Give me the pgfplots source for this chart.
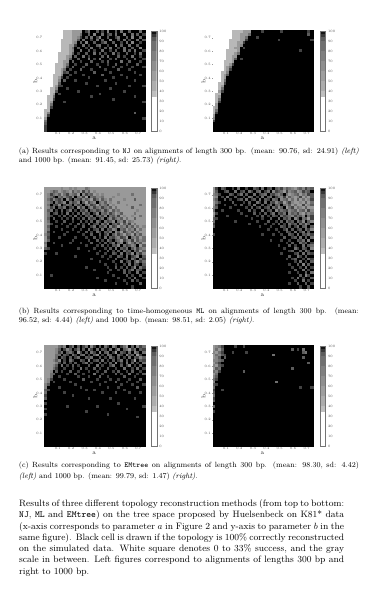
\documentclass[border=0pt]{standalone}
\usepackage{fontspec}
\usepackage{pgfplots}
\usepackage{pgfplotstable}
\pgfplotsset{compat=1.18}
% cell values: failure rate in tens of percent, 0 = 100% success (black), 7 = under 33% (white)
\pgfplotsset{colormap={tw}{gray(0cm)=(0); gray(1cm)=(.26); gray(2cm)=(.36); gray(3cm)=(.44); gray(4cm)=(.52); gray(5cm)=(.6); gray(6cm)=(.72); gray(7cm)=(1)}}
\pgfplotstableread[header=false]{
7 7 7 7 7 7 7 6 6 6  5 5 5 5 0 1 3 0 0 2  0 1 0 4 0 0 2 0 3 0  0 2 0 0 0 3 0
7 7 7 7 7 7 7 6 6 6  5 5 5 3 0 0 2 0 4 0  0 3 0 1 2 0 3 0 0 4  0 0 3 0 2 0 1
7 7 7 7 7 7 7 6 6 6  5 5 4 1 0 2 0 3 0 1  4 0 0 2 0 0 1 3 0 0  2 0 4 0 0 3 0
7 7 7 7 7 7 6 6 6 6  5 5 2 0 3 0 0 1 0 3  0 2 0 0 4 0 0 2 0 3  0 1 0 0 3 0 2
7 7 7 7 7 7 6 6 6 6  5 4 0 2 0 4 0 0 2 0  0 1 3 0 0 2 0 0 1 0  3 0 4 0 0 1 0
7 7 7 7 7 7 6 6 6 5  5 1 0 0 3 0 1 0 0 2  3 0 0 1 0 0 4 0 2 0  0 3 0 0 2 0 0
7 7 7 7 7 7 6 6 6 5  3 0 2 0 0 1 0 3 0 0  1 0 2 0 3 0 0 1 0 3  0 0 2 0 0 4 0
7 7 7 7 7 7 6 6 6 5  4 0 0 3 0 0 2 0 1 0  0 3 0 0 1 0 2 0 0 3  0 2 0 3 0 0 1
7 7 7 7 7 6 6 6 6 5  2 0 1 0 0 2 0 0 3 0  2 0 1 0 0 3 0 1 0 0  2 0 0 1 0 3 0
7 7 7 7 7 6 6 6 5 4  0 2 0 0 3 0 1 0 0 0  0 2 0 3 0 0 0 2 0 1  0 0 3 0 0 1 0
7 7 7 7 7 6 6 6 5 2  0 0 2 0 0 0 3 0 1 0  3 0 0 0 1 0 2 0 0 0  1 0 0 2 0 0 1
7 7 7 7 7 6 6 5 5 0  2 0 0 1 0 0 0 2 0 0  0 1 0 2 0 0 0 0 3 0  0 2 0 0 0 1 0
7 7 7 7 6 6 6 5 3 0  0 1 0 0 0 2 0 0 0 1  0 0 0 1 0 0 2 0 0 0  1 0 0 0 2 0 0
7 7 7 7 6 6 6 5 1 0  2 0 0 0 1 0 0 0 0 0  2 0 0 0 0 1 0 0 1 0  0 0 1 0 0 0 1
7 7 7 7 6 6 5 3 0 1  0 0 0 2 0 0 0 1 0 0  0 0 1 0 0 0 0 2 0 0  0 1 0 0 0 0 0
7 7 7 7 6 6 5 1 2 0  0 1 0 0 0 0 0 0 2 0  0 0 0 0 1 0 0 0 0 0  0 0 0 1 0 0 0
7 7 7 6 6 6 4 0 0 1  0 0 0 0 1 0 0 0 0 0  0 2 0 0 0 0 0 0 1 0  0 0 0 0 0 1 0
7 7 7 6 6 5 1 0 1 0  0 0 0 0 0 0 1 0 0 0  0 0 0 0 0 1 0 0 0 0  1 0 0 0 0 0 0
7 7 7 6 6 4 0 2 0 0  0 1 0 0 0 0 0 0 0 0  0 0 1 0 0 0 0 0 0 0  0 0 0 1 0 0 0
7 7 7 6 6 2 0 0 0 0  0 0 0 0 0 1 0 0 0 0  0 0 0 0 0 0 1 0 0 0  0 0 0 0 0 0 0
7 7 7 6 5 1 1 0 0 0  0 0 0 0 0 0 0 0 0 1  0 0 0 0 0 0 0 0 0 0  0 1 0 0 0 0 1
7 7 6 6 4 0 0 0 1 0  0 0 0 0 0 0 0 0 0 0  0 0 0 0 1 0 0 0 0 0  0 0 0 0 0 0 0
7 7 6 6 2 0 0 0 0 0  0 0 1 0 0 0 0 0 0 0  0 0 0 0 0 0 0 0 0 1  0 0 0 0 0 0 0
7 7 6 5 0 1 0 0 0 0  0 0 0 0 0 0 0 0 0 0  1 0 0 0 0 0 0 0 0 0  0 0 0 0 0 0 0
7 6 6 3 0 0 0 0 0 0  0 0 0 0 0 0 0 1 0 0  0 0 0 0 0 0 0 0 0 0  0 0 0 1 0 0 0
7 6 6 1 0 0 0 0 0 0  0 0 0 0 0 0 0 0 0 0  0 0 0 0 0 1 0 0 0 0  0 0 0 0 0 0 0
7 6 5 0 0 0 0 1 0 0  0 0 0 0 0 0 0 0 0 0  0 0 0 0 0 0 0 0 0 0  0 0 0 0 0 0 1
7 6 3 0 0 0 0 0 0 0  0 0 0 0 0 0 0 0 0 0  0 0 0 0 0 0 0 0 0 0  0 0 0 0 0 0 0
7 6 1 0 0 0 0 0 0 0  0 0 0 0 0 0 0 0 0 0  0 0 0 0 0 0 0 0 0 0  0 0 0 0 0 0 0
6 6 0 0 0 0 0 0 0 0  0 0 0 0 0 0 0 0 0 0  0 0 0 0 0 0 0 0 0 0  0 0 0 0 0 0 0
6 4 0 0 0 0 0 0 0 0  0 0 0 0 0 0 0 0 0 0  0 0 0 0 0 0 0 0 0 0  0 0 0 2 0 0 0
6 1 0 0 0 0 0 0 0 0  0 0 0 0 0 0 0 0 0 0  0 0 0 0 0 0 0 0 0 0  0 0 0 0 0 0 0
5 0 0 0 0 0 0 0 0 0  0 0 0 0 0 0 0 0 0 0  0 0 0 0 0 0 0 0 0 0  0 0 0 0 0 0 1
3 0 0 0 0 0 0 0 0 0  0 0 0 0 0 0 0 0 0 0  0 0 0 0 0 0 0 0 0 0  0 0 0 0 0 0 0
2 0 0 0 0 0 0 0 0 0  0 0 0 0 0 0 0 0 0 0  0 0 0 0 0 0 0 0 0 0  0 0 0 0 0 0 0
1 0 0 0 0 0 0 0 0 0  0 0 0 0 0 0 0 0 0 0  0 0 0 0 0 0 0 0 0 0  0 0 0 0 0 0 0
1 0 0 0 0 0 0 0 0 0  0 0 0 0 0 0 0 0 0 0  0 0 0 0 0 0 0 0 0 0  0 0 0 0 0 0 0
}\tAl
\pgfplotstableread[header=false]{
7 7 7 7 7 7 7 6 6 6  6 5 5 5 0 0 0 0 1 0  0 0 0 0 0 1 0 0 0 0  0 0 0 0 0 1 0
7 7 7 7 7 7 7 6 6 6  5 5 5 3 0 0 0 0 0 0  0 0 0 0 0 0 0 0 0 0  0 0 0 0 0 2 0
7 7 7 7 7 7 7 6 6 6  5 5 3 0 0 0 1 0 0 0  0 0 0 0 0 0 0 0 0 0  0 0 0 0 0 0 0
7 7 7 7 7 7 6 6 6 6  5 5 1 0 0 0 0 0 0 0  0 0 0 0 1 0 0 0 0 0  0 0 0 0 0 0 1
7 7 7 7 7 7 6 6 6 5  5 1 0 0 0 0 0 0 0 0  0 0 0 0 0 0 0 0 0 0  0 0 0 0 0 0 0
7 7 7 7 7 7 6 6 6 5  4 0 0 0 0 0 0 0 0 0  0 0 0 0 0 0 0 0 0 0  0 0 0 0 0 0 0
7 7 7 7 7 7 6 6 5 5  0 1 0 0 0 0 0 0 0 0  0 0 0 0 0 0 0 0 0 0  0 0 0 0 0 0 0
7 7 7 7 7 6 6 6 6 5  0 0 0 0 0 0 0 0 0 0  0 0 0 0 0 0 0 0 0 0  0 0 1 0 0 0 0
7 7 7 7 7 6 6 6 5 3  0 0 0 0 0 0 0 0 0 0  0 0 0 0 0 0 0 0 0 0  0 0 0 0 0 0 0
7 7 7 7 7 6 6 5 5 0  0 0 0 0 0 0 0 0 0 0  0 0 0 0 0 0 0 0 0 0  0 0 0 0 0 0 0
7 7 7 7 7 6 6 5 2 0  1 0 0 0 0 0 0 0 0 0  0 0 0 0 0 0 0 0 0 0  0 0 0 0 0 0 0
7 7 7 7 6 6 6 5 0 0  0 0 0 0 0 0 0 0 0 0  0 0 0 0 0 0 0 0 0 0  0 0 0 0 0 0 0
7 7 7 7 6 6 5 1 0 0  0 0 0 0 0 0 0 0 0 0  0 0 0 0 0 0 0 0 0 0  0 0 0 0 0 0 0
7 7 7 7 6 5 3 0 0 0  0 0 0 0 0 0 0 0 0 0  0 0 0 0 0 0 0 0 0 0  0 0 0 0 0 0 0
7 7 7 7 6 5 1 0 0 0  0 0 0 0 0 0 0 0 0 0  0 0 0 0 0 0 0 0 0 0  0 0 0 0 0 0 0
7 7 7 6 6 4 0 0 0 0  0 0 0 0 0 0 0 0 0 0  0 0 0 0 0 0 0 0 0 0  0 0 0 0 0 0 0
7 7 7 6 5 2 0 0 0 0  0 0 0 0 0 0 0 0 0 0  0 0 0 0 0 0 0 0 0 0  0 0 0 0 0 0 0
7 7 7 6 5 0 0 0 0 0  0 0 0 0 0 0 0 0 0 0  0 0 0 0 0 0 0 0 0 0  0 0 0 0 0 0 0
7 7 7 6 3 0 0 0 0 0  0 0 0 0 0 0 0 0 0 0  0 0 0 0 0 0 0 0 0 0  0 0 0 0 0 0 0
7 7 6 6 1 0 0 0 0 0  0 0 0 0 0 0 0 0 0 0  0 0 0 0 0 0 0 0 0 0  0 0 0 0 0 0 0
7 7 6 5 0 0 0 0 0 0  0 0 0 0 0 0 0 0 0 0  0 0 0 0 0 0 0 0 0 0  0 0 0 0 0 0 0
7 7 6 3 0 0 0 0 0 0  0 0 0 0 0 0 0 0 0 0  0 0 0 0 0 0 0 0 0 0  0 0 0 0 0 0 0
7 7 5 1 0 0 0 0 0 0  0 0 0 0 0 0 0 0 0 0  0 0 0 0 0 0 0 0 0 0  0 0 0 0 0 0 0
7 6 6 0 0 0 0 0 0 0  0 0 0 0 0 0 0 0 0 0  0 0 0 0 0 0 0 0 0 0  0 0 0 0 0 0 0
7 6 5 0 0 0 0 0 0 0  0 0 0 0 0 0 0 0 0 0  0 0 0 0 0 0 0 0 0 0  0 0 0 0 0 0 0
7 6 3 0 0 0 0 0 0 0  0 0 0 0 0 0 0 0 0 0  0 0 0 0 0 0 0 0 0 0  0 0 0 0 0 0 0
7 6 1 0 0 0 0 0 0 0  0 0 0 0 0 0 0 0 0 0  0 0 0 0 0 0 0 0 0 0  0 0 0 0 0 0 0
7 5 0 0 0 0 0 0 0 0  0 0 0 0 0 0 0 0 0 0  0 0 0 0 0 0 0 0 0 0  0 0 0 0 0 0 0
6 5 0 0 0 0 0 0 0 0  0 0 0 0 0 0 0 0 0 0  0 0 0 0 0 0 0 0 0 0  0 0 0 0 0 0 0
6 3 0 0 0 0 0 0 0 0  0 0 0 0 0 0 0 0 0 0  0 0 0 0 0 0 0 0 0 0  0 0 0 0 0 0 0
6 1 0 0 0 0 0 0 0 0  0 0 0 0 0 0 0 0 0 0  0 0 0 0 0 0 0 0 0 0  0 0 0 0 0 0 0
5 0 0 0 0 0 0 0 0 0  0 0 0 0 0 0 0 0 0 0  0 0 0 0 0 0 0 0 0 0  0 0 0 0 0 0 0
4 0 0 0 0 0 0 0 0 0  0 0 0 0 0 0 0 0 0 0  0 0 0 0 0 0 0 0 0 0  0 0 0 0 0 0 0
1 0 0 0 0 0 0 0 0 0  0 0 0 0 0 0 0 0 0 0  0 0 0 0 0 0 0 0 0 0  0 0 0 0 0 0 0
0 0 0 0 0 0 0 0 0 0  0 0 0 0 0 0 0 0 0 0  0 0 0 0 0 0 0 0 0 0  0 0 0 0 0 0 0
0 0 0 0 0 0 0 0 0 0  0 0 0 0 0 0 0 0 0 0  0 0 0 0 0 0 0 0 0 0  0 0 0 0 0 0 0
0 0 0 0 0 0 0 0 0 0  0 0 0 0 0 0 0 0 0 0  0 0 0 0 0 0 0 0 0 0  0 0 0 0 0 0 0
}\tAr
\pgfplotstableread[header=false]{
5 5 5 5 5 5 4 5 5 4  5 4 5 5 5 3 4 5 5 5  5 5 5 5 5 5 5 5 5 5  5 5 5 5 5 5 5
5 5 4 2 3 5 4 3 4 5  2 4 3 5 1 4 2 5 4 5  5 5 5 5 5 5 5 5 5 5  5 5 5 5 5 5 5
5 4 1 3 4 2 5 3 1 4  3 2 5 0 4 1 3 2 5 4  5 4 5 5 5 5 5 4 5 5  5 5 3 5 5 5 5
5 4 3 1 0 3 2 4 2 1  4 0 3 4 1 5 0 3 2 4  4 3 5 5 5 4 5 5 5 5  5 5 5 5 5 5 5
5 3 1 4 2 1 3 0 4 1  0 3 2 1 4 2 3 5 1 3  5 2 4 5 3 5 5 5 5 4  5 5 5 2 5 5 5
5 4 2 0 3 1 2 4 0 3  1 2 4 0 2 5 1 3 4 0  3 4 2 5 4 5 5 3 5 5  5 5 5 5 5 5 5
5 3 0 2 1 4 0 1 3 2  0 3 1 2 0 3 4 1 2 5  2 4 3 1 5 4 5 5 5 5  4 5 5 5 5 3 5
5 4 1 3 0 2 1 3 0 1  2 0 4 1 3 0 2 4 1 3  4 1 3 4 2 5 3 5 5 5  5 5 2 5 5 5 5
5 2 3 0 1 0 2 0 1 3  0 1 0 2 1 3 0 2 3 1  2 4 1 3 5 2 4 3 5 5  5 5 5 5 4 5 5
5 3 0 1 2 0 1 0 3 0  1 0 2 0 3 1 2 0 1 4  0 3 2 4 1 3 5 4 2 5  5 5 5 3 5 5 5
5 3 1 0 0 1 0 2 0 1  0 3 0 1 0 2 1 3 0 2  3 1 4 0 3 2 4 1 5 4  5 5 4 5 5 3 5
5 2 0 2 0 0 1 0 1 0  2 0 1 0 2 0 3 1 2 0  1 3 0 2 4 1 3 4 2 5  3 5 5 2 5 5 5
5 3 0 0 1 0 0 2 0 0  1 0 0 2 0 1 0 2 0 3  1 0 3 1 2 4 0 3 4 1  5 3 4 5 5 5 5
5 4 1 0 0 0 1 0 0 1  0 0 2 0 1 0 3 0 1 2  0 3 1 4 0 2 3 1 5 2  4 1 5 3 5 5 5
5 2 0 0 1 0 0 0 1 0  0 1 0 0 2 0 0 1 3 0  2 1 3 0 4 1 2 5 3 4  1 4 2 5 3 5 4
5 3 0 0 0 0 1 0 0 0  1 0 0 1 0 0 2 0 1 2  0 3 0 2 1 4 3 0 3 2  5 3 4 1 5 3 5
5 1 0 1 0 0 0 0 1 0  0 0 1 0 0 2 0 1 0 3  1 0 2 1 3 0 4 2 5 1  3 4 2 5 3 5 5
4 2 0 0 0 0 0 1 0 0  0 0 0 0 1 0 0 2 0 0  2 0 1 3 0 2 4 1 3 5  2 3 5 1 4 2 5
5 1 0 0 0 1 0 0 0 0  0 1 0 0 0 1 0 0 2 0  1 0 3 0 2 1 3 4 1 2  5 0 3 4 2 5 3
5 2 0 0 0 0 0 0 0 0  1 0 0 0 0 0 1 0 0 2  0 1 0 3 1 0 2 3 5 1  3 4 1 5 2 4 3
3 0 0 1 0 0 0 0 0 1  0 0 0 1 0 0 0 2 0 0  1 0 2 0 1 3 0 2 4 0  2 5 3 1 4 2 5
4 0 0 0 0 0 1 0 0 0  0 0 0 0 0 1 0 0 0 1  0 2 0 1 0 2 1 4 0 3  1 2 4 3 0 5 2
2 1 0 0 0 0 0 0 0 0  0 0 1 0 0 0 0 0 1 0  0 0 1 0 2 0 3 0 2 1  3 0 2 4 1 3 4
0 0 0 0 0 0 0 0 0 0  0 0 0 0 0 0 1 0 0 0  1 0 0 2 0 1 0 2 0 3  1 2 0 3 1 5 2
1 0 0 0 1 0 0 0 0 0  0 0 0 0 0 0 0 0 0 1  0 0 1 0 0 2 1 0 3 0  2 1 4 0 3 1 4
0 0 0 0 0 0 0 0 0 0  0 1 0 0 0 0 0 0 0 0  0 1 0 0 1 0 0 2 1 0  3 0 1 2 4 0 2
0 0 0 0 0 0 0 0 0 0  0 0 0 0 0 0 0 1 0 0  0 0 0 1 0 0 2 0 0 1  2 0 3 1 0 3 1
0 0 0 0 0 0 0 0 0 0  0 0 0 0 0 0 0 0 0 0  1 0 0 0 0 1 0 0 3 0  1 2 0 2 4 1 3
0 0 0 0 0 0 0 0 0 0  0 0 0 0 0 0 0 0 0 0  0 0 1 0 0 0 1 0 0 1  0 3 0 2 1 0 2
0 0 0 0 0 0 0 0 0 0  0 0 0 0 0 1 0 0 0 0  0 0 0 1 0 0 2 0 1 0  2 0 1 4 0 3 1
0 0 0 0 0 0 0 0 0 0  0 0 0 0 0 0 0 0 1 0  0 0 0 0 1 0 0 1 0 2  0 1 3 0 2 1 0
0 0 0 0 0 0 0 0 0 0  0 0 0 0 0 0 0 0 0 0  0 0 0 1 0 0 0 0 0 2  0 1 0 0 3 0 1
0 0 1 0 0 0 0 0 0 0  0 0 0 0 0 0 0 0 0 0  0 0 0 0 0 1 0 0 0 0  2 0 1 0 0 2 0
0 0 0 0 0 0 0 0 0 0  0 0 0 0 0 0 0 0 0 1  0 0 0 0 0 0 0 1 0 0  0 1 0 3 0 0 1
0 0 0 0 0 0 0 0 0 0  0 0 0 0 0 0 0 0 0 0  0 0 1 0 0 0 0 0 0 1  0 0 2 0 1 0 0
0 0 0 0 0 0 0 0 0 0  0 0 0 0 0 0 0 0 0 0  0 0 0 0 0 0 1 0 0 0  1 0 0 0 0 2 0
0 0 0 0 0 0 0 0 0 0  0 0 0 0 0 0 0 0 0 0  0 0 0 0 0 0 0 0 0 0  0 0 1 0 0 0 0
}\tBl
\pgfplotstableread[header=false]{
5 1 0 2 1 0 0 1 0 3  0 0 1 0 0 2 1 0 3 0  1 2 0 2 3 1 4 2 3 4  5 3 2 4 1 3 2
5 2 0 0 1 2 0 0 3 0  1 2 0 3 1 0 2 3 0 1  3 0 4 1 2 3 5 1 4 3  2 5 4 1 3 2 0
4 3 1 0 0 0 2 1 0 1  3 0 2 0 0 3 0 1 2 3  0 2 1 3 4 2 0 3 5 4  3 2 5 3 4 1 2
5 4 0 1 0 3 0 0 2 0  0 1 0 3 2 0 1 0 3 0  2 3 0 1 3 4 1 5 2 4  5 4 1 5 3 5 2
4 2 0 0 2 0 1 0 0 1  2 0 3 0 1 2 0 3 0 2  1 0 3 2 0 4 3 2 5 3  5 2 5 3 5 4 1
5 3 1 0 0 0 0 2 0 0  0 1 0 2 0 0 3 1 0 3  0 2 1 4 2 1 5 3 1 4  5 5 4 5 2 5 3
5 1 0 0 1 0 0 0 1 0  2 0 0 1 0 3 0 0 2 0  1 3 0 2 3 0 3 4 2 5  3 5 5 1 5 4 2
4 2 0 0 0 0 1 0 0 0  0 0 1 0 2 0 1 2 0 1  2 0 3 1 4 2 0 5 3 1  5 3 4 5 2 5 5
3 0 0 1 0 0 0 0 0 1  0 0 0 2 0 1 0 0 3 0  1 2 0 4 1 3 2 1 4 3  2 5 3 2 5 1 4
5 1 0 0 0 0 0 0 0 0  1 0 0 0 0 2 0 1 0 2  0 1 3 0 2 1 3 0 4 2  3 1 4 5 2 4 3
4 0 0 0 0 1 0 0 0 0  0 0 1 0 0 0 1 0 2 0  1 0 2 1 0 3 1 2 3 4  1 3 2 4 0 3 1
2 1 0 0 0 0 0 0 0 0  0 0 0 0 1 0 0 0 1 0  0 2 0 0 3 0 2 1 3 0  4 2 0 3 2 5 1
3 0 0 0 0 0 0 0 1 0  0 0 0 0 0 0 1 0 0 0  2 0 0 1 0 2 0 3 1 2  0 3 1 4 0 2 4
1 0 0 0 0 0 0 0 0 0  0 0 0 1 0 0 0 0 0 1  0 0 1 0 2 0 1 0 3 1  2 0 3 1 4 2 0
2 0 0 0 0 0 0 0 0 0  0 0 0 0 0 0 0 1 0 0  0 1 0 0 0 2 1 0 2 0  1 3 0 2 3 0 2
0 0 0 0 0 0 0 0 0 0  0 0 0 0 0 0 0 0 0 0  1 0 0 1 0 0 1 3 0 2  0 1 2 0 3 1 4
0 0 0 0 0 0 0 0 0 0  0 0 0 0 0 0 0 0 0 0  0 0 0 0 1 0 0 2 1 0  3 0 1 3 0 2 0
1 0 0 0 0 0 0 0 0 0  0 0 0 0 0 0 0 0 1 0  0 0 1 0 0 1 0 0 2 1  0 3 0 2 1 3 1
0 0 0 0 0 0 0 0 0 0  0 0 0 0 0 0 0 0 0 0  0 0 0 0 0 0 2 0 0 1  2 0 3 0 2 0 3
0 0 0 0 0 0 0 0 0 0  0 0 0 0 0 0 0 0 0 0  0 1 0 0 0 1 0 0 1 0  0 2 1 3 0 4 0
0 0 0 0 0 0 0 0 0 0  0 0 0 0 0 0 0 0 0 0  0 0 0 0 0 0 0 1 0 2  0 0 3 1 2 0 1
0 0 0 0 0 0 0 0 0 0  0 0 0 0 0 0 0 0 0 0  0 0 0 0 1 0 0 0 2 0  1 0 0 3 0 2 3
0 0 0 0 0 0 0 0 0 0  0 0 0 0 0 0 0 0 0 0  0 0 0 0 0 0 1 0 0 0  3 1 0 2 1 0 4
0 0 0 0 0 0 0 0 0 0  0 0 0 0 0 0 0 0 0 0  0 0 0 0 0 0 0 0 1 2  0 0 2 0 3 1 0
0 0 0 0 0 0 0 0 0 0  0 0 0 0 0 0 0 0 0 0  0 0 0 0 0 1 0 0 0 0  1 2 0 3 0 2 1
0 0 0 0 0 0 0 0 0 0  0 0 0 0 0 0 0 0 0 0  0 0 0 0 0 0 0 0 2 0  0 3 1 0 2 0 0
0 0 0 0 0 0 0 0 0 0  0 0 0 0 0 0 0 0 0 0  0 0 0 0 0 0 0 1 0 1  2 0 0 1 0 3 1
0 0 0 0 0 0 0 0 0 0  0 0 0 0 0 0 0 0 0 0  0 0 0 0 0 0 0 0 0 0  1 0 3 0 1 0 2
0 0 0 0 0 0 0 0 0 0  0 0 0 0 0 0 0 0 0 0  0 0 0 0 0 0 0 0 1 0  0 2 0 4 0 2 0
0 0 0 0 0 0 0 0 0 0  0 0 0 0 0 0 0 0 0 0  0 0 0 0 0 0 0 0 0 1  0 0 1 0 3 0 1
0 0 0 0 0 0 0 0 0 0  0 0 0 0 0 0 0 0 0 0  0 0 0 0 0 0 0 0 0 0  2 0 0 3 0 1 0
0 0 0 0 0 0 0 0 0 0  0 0 0 0 0 0 0 0 0 0  0 0 0 0 0 0 0 0 1 0  0 1 0 0 2 0 3
0 0 0 0 0 0 0 0 0 0  0 0 0 0 0 0 0 0 0 0  0 0 0 0 0 0 0 0 0 0  0 0 2 0 4 1 0
0 0 0 0 0 0 0 0 0 0  0 0 0 0 0 0 0 0 0 0  0 0 0 0 0 0 0 0 0 1  0 3 0 1 0 0 2
0 0 0 0 0 0 0 0 0 0  0 0 0 0 0 0 0 0 0 0  0 0 0 0 0 0 0 0 0 0  1 0 0 3 0 1 0
0 0 0 0 0 0 0 0 0 0  0 0 0 0 0 0 0 0 0 0  0 0 0 0 0 0 0 0 1 0  0 2 0 0 2 0 1
0 0 0 0 0 0 0 0 0 0  0 0 0 0 0 0 0 0 0 0  0 0 0 0 0 0 0 0 0 0  0 0 1 0 0 2 0
}\tBr
\pgfplotstableread[header=false]{
5 5 5 5 5 3 2 4 0 1  3 0 2 0 1 3 0 4 1 0  2 0 3 1 0 4 2 0 1 3  5 0 2 0 4 1 3
5 5 5 5 4 2 0 1 4 2  0 1 3 0 2 0 4 1 0 3  0 2 1 0 3 0 1 4 0 2  3 5 1 3 0 2 1
5 5 5 5 4 1 3 0 2 3  1 0 5 1 0 2 0 3 1 0  4 0 2 3 0 1 5 0 2 1  0 3 0 4 2 0 3
5 5 5 5 3 3 0 2 1 0  3 1 0 2 3 0 1 0 2 4  0 1 0 3 2 0 0 3 1 0  4 1 2 0 5 1 0
5 5 5 5 3 0 2 1 0 2  0 1 3 0 0 2 1 3 0 0  2 0 1 0 3 1 0 2 0 1  0 3 0 2 1 4 2
5 5 5 4 2 4 0 1 0 3  1 0 0 2 1 0 4 0 1 2  0 3 0 1 0 2 0 1 3 0  2 0 1 5 0 2 1
5 5 5 5 4 1 0 2 0 1  0 2 0 0 1 3 0 1 0 0  2 0 1 0 2 0 4 0 1 0  3 0 2 0 1 0 3
5 5 5 4 2 0 3 0 1 0  2 0 1 0 0 0 2 0 0 3  0 1 0 0 1 3 0 0 2 0  1 4 0 1 0 2 0
5 5 5 3 1 0 0 1 0 0  1 0 0 3 0 1 0 0 2 0  1 0 0 2 0 0 1 0 0 3  0 0 1 0 3 0 1
5 5 4 0 2 0 1 0 0 2  0 0 1 0 0 0 1 0 0 1  0 0 2 0 0 1 0 2 0 0  1 0 2 0 0 1 0
5 5 3 2 0 0 0 0 1 0  0 2 0 0 1 0 0 0 3 0  0 1 0 0 0 0 2 0 1 0  0 3 0 0 1 0 2
5 5 3 0 0 1 0 0 0 0  0 0 1 0 0 0 1 0 0 0  2 0 0 1 0 0 0 0 0 2  0 0 0 1 0 0 0
5 4 1 0 0 0 0 1 0 0  0 0 0 0 2 0 0 0 0 1  0 0 0 0 1 0 0 1 0 0  0 1 0 0 0 2 0
5 4 0 1 0 0 0 0 0 1  0 0 0 0 0 0 0 1 0 0  0 0 1 0 0 0 2 0 0 0  1 0 0 0 1 0 0
4 2 0 0 0 0 0 0 0 0  0 1 0 0 0 0 0 0 0 0  1 0 0 0 0 0 0 0 1 0  0 0 1 0 0 0 1
4 0 0 0 0 1 0 0 0 0  0 0 0 1 0 0 0 0 0 0  0 0 0 1 0 0 0 1 0 0  0 0 0 0 2 0 0
2 1 0 0 0 0 0 0 0 0  0 0 0 0 0 1 0 0 1 0  0 0 0 0 0 0 0 0 0 1  0 0 0 0 0 0 0
3 0 0 0 0 0 0 1 0 0  0 0 0 0 0 0 0 0 0 0  0 1 0 0 0 0 1 0 0 0  0 1 0 0 0 1 0
1 0 0 0 0 0 0 0 0 0  1 0 0 0 0 0 0 0 0 0  0 0 0 0 0 0 0 0 0 0  0 0 0 0 0 0 0
2 0 0 0 0 0 0 0 0 0  0 0 0 0 0 0 1 0 0 0  0 0 0 0 1 0 0 0 0 0  0 0 0 1 0 0 0
0 0 0 0 0 0 0 0 0 0  0 0 0 0 0 0 0 0 0 0  0 0 0 0 0 0 0 0 0 0  0 0 0 0 0 0 0
1 0 0 0 0 0 0 0 0 0  0 0 0 0 0 0 0 0 0 0  0 0 0 0 0 0 0 1 0 0  0 0 0 0 0 0 0
0 0 0 0 0 0 0 0 1 0  0 0 0 0 0 0 0 0 0 1  0 0 0 0 0 0 0 0 0 0  0 0 0 0 0 0 1
1 0 0 0 0 0 0 0 0 0  0 0 0 0 0 0 0 0 0 0  0 0 0 0 0 0 0 0 0 0  1 0 0 0 0 0 0
0 0 0 0 0 0 0 0 0 0  0 0 0 0 0 1 0 0 0 0  0 0 0 0 0 0 0 0 0 0  0 0 0 0 0 0 0
1 0 0 0 0 0 0 0 0 0  0 0 0 0 0 0 0 0 0 0  0 0 0 1 0 0 0 0 0 0  0 0 0 0 0 0 0
0 0 0 0 0 0 0 0 0 0  0 0 0 0 0 0 0 0 0 0  0 0 0 0 0 0 0 0 0 0  0 0 0 0 1 0 0
0 0 0 0 0 0 0 0 0 0  0 0 0 0 0 0 0 0 0 0  0 0 0 0 0 0 0 0 0 0  0 0 0 0 0 0 0
0 0 0 0 0 0 0 0 0 0  0 0 0 0 0 0 0 0 0 0  0 0 0 0 0 0 0 0 0 0  0 0 0 0 0 0 0
0 0 0 0 0 0 0 0 0 0  0 0 0 0 0 0 0 0 0 0  0 0 0 0 0 0 0 0 0 0  0 0 0 0 0 0 0
0 0 0 0 0 0 0 0 0 0  0 0 0 0 0 0 0 0 0 0  0 0 0 0 0 0 0 0 0 0  0 0 0 0 0 0 0
0 0 0 0 0 0 0 0 0 0  0 0 0 0 0 0 0 0 0 0  0 0 0 0 0 0 0 0 0 0  0 0 0 0 0 0 0
0 0 0 0 0 0 0 0 0 0  0 0 0 0 0 0 0 0 0 0  0 0 0 0 0 0 0 0 0 0  0 0 0 0 0 0 0
0 0 0 0 0 0 0 0 0 0  0 0 0 0 0 0 0 0 0 0  0 0 0 0 0 0 0 0 0 0  0 0 0 0 0 0 0
0 0 0 0 0 0 0 0 0 0  0 0 0 0 0 0 0 0 0 0  0 0 0 0 0 0 0 0 0 0  0 0 0 0 0 0 0
0 0 0 0 0 0 0 0 0 0  0 0 0 0 0 0 0 0 0 0  0 0 0 0 0 0 0 0 0 0  0 0 0 0 0 0 0
0 0 0 0 0 0 0 0 0 0  0 0 0 0 0 0 0 0 0 0  0 0 0 0 0 0 0 0 0 0  0 0 0 0 0 0 0
}\tCl
\pgfplotstableread[header=false]{
5 4 3 1 0 0 0 0 1 0  0 1 0 0 0 0 0 0 0 0  0 0 0 0 0 0 0 0 0 0  0 0 0 0 0 0 0
5 3 5 2 0 0 0 0 0 0  0 0 0 0 0 0 0 0 0 0  0 0 0 0 0 0 0 0 0 2  0 1 0 3 0 0 0
4 5 3 1 0 0 0 1 0 0  0 0 1 0 0 0 0 0 0 0  0 0 0 0 0 0 0 0 0 0  0 0 0 2 3 0 0
5 3 4 2 1 0 0 0 0 0  0 0 0 0 0 0 0 0 0 0  0 0 3 0 0 0 0 0 0 0  0 0 0 0 0 0 0
5 4 2 0 2 0 0 0 0 0  0 0 0 0 0 0 0 0 0 0  0 0 0 0 0 0 0 0 0 0  0 0 0 2 0 0 0
4 4 3 2 0 0 0 0 0 0  0 0 0 0 0 0 0 0 0 0  0 0 0 0 0 0 0 0 0 0  0 0 0 0 0 0 0
5 3 1 0 0 0 0 0 0 0  0 0 0 0 0 0 0 0 0 0  0 0 0 0 0 0 0 0 0 0  0 0 0 0 0 2 0
4 5 2 1 0 0 0 0 0 0  0 0 0 0 0 0 0 0 0 0  0 0 0 0 0 0 0 0 0 0  0 0 0 0 0 0 0
5 2 3 0 0 0 0 0 0 0  0 0 0 0 0 0 0 0 0 0  0 0 0 0 0 0 0 0 0 2  0 0 0 0 0 0 0
3 4 1 0 0 0 0 0 0 0  0 2 0 0 0 0 0 0 0 0  0 0 0 0 0 0 0 0 0 0  0 0 0 0 0 0 0
5 3 0 0 0 0 0 0 0 0  0 0 0 0 0 0 0 0 0 0  0 0 0 0 0 0 0 0 0 0  0 0 0 0 0 0 0
4 2 0 0 0 0 0 0 0 0  0 0 0 0 0 0 0 0 0 0  0 0 0 0 0 0 0 0 0 0  0 0 0 0 0 0 0
3 1 0 0 0 0 0 0 0 0  0 0 0 0 0 0 0 0 0 0  0 0 0 0 0 0 0 0 0 0  0 0 0 0 0 0 0
4 0 0 0 0 0 0 0 0 0  0 0 0 0 0 0 0 0 0 0  0 0 0 3 0 0 0 0 0 0  0 0 0 0 0 0 0
2 1 0 0 0 0 0 0 0 0  0 0 0 0 0 0 0 0 0 0  0 0 0 0 0 0 0 0 0 0  0 0 0 0 0 0 0
3 0 0 0 0 0 0 0 0 0  0 0 0 0 0 0 0 0 0 0  0 0 0 0 0 0 0 0 0 0  0 0 1 0 0 0 1
1 0 0 1 0 0 0 0 0 0  0 0 0 0 0 0 0 0 0 0  0 0 0 0 0 0 0 0 0 0  0 0 0 0 0 0 0
2 0 0 0 0 0 0 0 0 0  0 0 0 0 0 0 0 0 0 0  0 0 0 0 0 0 0 0 0 0  0 0 0 0 0 0 0
3 0 0 0 0 0 0 0 0 0  0 0 0 0 0 0 0 0 0 0  0 0 0 0 0 0 0 0 0 0  0 0 0 0 0 0 0
1 0 0 0 0 0 0 0 0 0  0 0 0 0 0 0 0 0 0 0  0 0 0 0 0 0 0 0 0 0  0 0 0 0 0 0 0
2 0 0 0 0 0 0 0 0 0  0 0 0 0 0 0 0 0 0 0  0 0 0 0 0 0 0 0 0 0  0 0 0 0 0 0 0
0 0 0 0 0 0 0 0 0 0  0 0 0 0 0 0 0 0 0 0  0 0 0 0 0 0 0 0 0 0  0 0 0 0 0 0 0
2 0 0 0 0 0 0 0 0 0  0 0 0 0 0 0 0 0 0 0  0 0 0 0 0 0 0 0 0 0  0 0 0 0 0 0 0
0 0 0 0 0 0 0 0 0 0  0 0 0 0 0 0 0 0 0 0  0 0 0 0 0 0 0 0 0 0  0 0 0 0 0 0 0
1 0 0 0 0 0 0 0 0 0  0 0 0 0 0 0 0 0 0 0  0 0 0 0 0 0 0 0 0 0  0 0 0 0 0 0 0
0 0 0 0 0 0 0 0 0 0  0 0 0 0 0 0 0 0 0 0  0 0 0 0 0 0 0 0 0 0  0 0 0 0 0 0 0
0 0 0 0 0 0 0 0 0 0  0 0 0 0 0 0 0 0 0 0  0 0 0 0 0 0 0 0 0 0  0 0 0 0 0 0 0
0 0 0 0 0 0 0 0 0 0  0 0 0 0 0 0 0 0 0 0  0 0 0 0 0 0 0 0 0 0  0 0 0 0 0 0 0
0 0 0 0 0 0 0 0 0 0  0 0 0 0 0 0 0 0 0 0  0 0 0 0 0 0 0 0 0 0  0 0 0 0 0 0 0
0 0 0 0 0 0 0 0 0 0  0 0 0 0 0 0 0 0 0 0  0 0 0 0 0 0 0 0 0 0  0 0 0 0 0 0 0
0 0 0 0 0 0 0 0 0 0  0 0 0 0 0 0 0 0 0 0  0 0 0 0 0 0 0 0 0 0  0 0 0 0 0 0 0
0 0 0 0 0 0 0 0 0 0  0 0 0 0 0 0 0 0 0 0  0 0 0 0 0 0 0 0 0 0  0 0 0 0 0 0 0
0 0 0 0 0 0 0 0 0 0  0 0 0 0 0 0 0 0 0 0  0 0 0 0 0 0 0 0 0 0  0 0 0 0 0 0 0
0 0 0 0 0 0 0 0 0 0  0 0 0 0 0 0 0 0 0 0  0 0 0 0 0 0 0 0 0 0  0 0 0 0 0 0 0
0 0 0 0 0 0 0 0 0 0  0 0 0 0 0 0 0 0 0 0  0 0 0 0 0 0 0 0 0 0  0 0 0 0 0 0 0
0 0 0 0 0 0 0 0 0 0  0 0 0 0 0 0 0 0 0 0  0 0 0 0 0 0 0 0 0 0  0 0 0 0 0 0 0
0 0 0 0 0 0 0 0 0 0  0 0 0 0 0 0 0 0 0 0  0 0 0 0 0 0 0 0 0 0  0 0 0 0 0 0 0
}\tCr
\newcommand\panel[3]{%
\begin{axis}[at={(#1pt,#2pt)},anchor=south west,scale only axis,width=100pt,height=100pt,
 xmin=0.005,xmax=0.75,ymin=0.005,ymax=0.75,axis line style={black!55,line width=.35pt},
 xtick={0.1,0.2,...,0.7},ytick={0.1,0.2,...,0.7},tick style={black!40,line width=.15pt},major tick length=1pt,
 tick align=outside,xtick pos=bottom,ytick pos=left,
 ticklabel style={font=\fontsize{3.4}{4}\selectfont,text=black!70},
 /pgf/number format/assume math mode=true,/pgf/number format/fixed,/pgf/number format/precision=1,
 xticklabel shift=-3.3pt,yticklabel shift=-1.8pt,
 xlabel={a},ylabel={b},label style={font=\fontsize{6}{6}\selectfont,text=black!80},
 xlabel style={at={(axis description cs:0.5,0)},anchor=north,xshift=-0.8pt,yshift=-5.4pt,inner sep=0pt},
 ylabel style={at={(axis description cs:0,0.5)},anchor=south,yshift=7.4pt,inner sep=0pt},
 colormap name=tw,point meta min=0,point meta max=7,clip=false,axis on top]
\pgfplotsinvokeforeach{0,...,36}{%
\addplot[forget plot,scatter,only marks,mark=square*,mark size=1.37pt,mark options={line width=0pt},
 scatter/use mapped color={draw=mapped color,fill=mapped color},point meta=explicit]
 table[x expr={0.005+(##1+0.5)*0.020135},y expr={0.75-(\coordindex+0.5)*0.020135},meta index=##1] {#3};}
\end{axis}}
\newcommand\seg[3]{\addplot[forget plot,draw=none,fill=black!#3] coordinates {(0,#1)(1,#1)(1,#2)(0,#2)} -- cycle;}
\newcommand\cbar[2]{%
\begin{axis}[at={(#1pt,#2pt)},anchor=south west,scale only axis,width=5.7pt,height=100pt,
 xmin=0,xmax=1,ymin=0,ymax=100,xtick=\empty,ytick={0,10,...,100},
 axis line style={black!55,line width=.35pt},tick style={black!40,line width=.15pt},major tick length=1pt,tick align=outside,ytick pos=right,yticklabel pos=right,
 ticklabel style={font=\fontsize{3.4}{4}\selectfont,text=black!70},yticklabel shift=-1.8pt,
 /pgf/number format/assume math mode=true,axis on top]
\seg{33.5}{40}{25}\seg{40}{50}{32}\seg{50}{60}{38}\seg{60}{70}{44}\seg{70}{80}{50}\seg{80}{90}{56}\seg{90}{94}{64}\seg{94}{97}{78}\seg{97}{100}{92}
\end{axis}}
\begin{document}
\begin{tikzpicture}[x=1pt,y=1pt]
\path[use as bounding box] (0,0) rectangle (374,598);
\panel{45}{467}{\tAl}\cbar{151}{467}
\panel{213.3}{467}{\tAr}\cbar{319.7}{467}
\panel{45}{310}{\tBl}\cbar{151}{310}
\panel{213.3}{310}{\tBr}\cbar{319.7}{310}
\panel{45}{152}{\tCl}\cbar{151}{152}
\panel{213.3}{152}{\tCr}\cbar{319.7}{152}
\newcommand\cl[3]{\node[anchor=base west,inner sep=0pt] at (18.7,#1) {\fontsize{7.55}{9}\selectfont\makebox[#2pt][s]{#3}};}
\newcommand\pl[3]{\node[anchor=base west,inner sep=0pt] at (19,#1) {\fontsize{9.25}{11}\selectfont\makebox[#2pt][s]{#3}};}
\newcommand\nl[2]{\node[anchor=base west,inner sep=0pt] at (18.7,#1) {\fontsize{7.55}{9}\selectfont #2};}
\cl{444.5}{340}{(a) Results corresponding to \texttt{NJ} on alignments of length 300 bp. (mean: 90.76, sd: 24.91) \textit{(left)}}
\nl{435.5}{and 1000 bp. (mean: 91.45, sd: 25.73) \textit{(right)}.}
\cl{284.5}{340}{(b) Results corresponding to time-homogeneous \texttt{ML} on alignments of length 300 bp. (mean:}
\nl{275.5}{96.52, sd: 4.44) \textit{(left)} and 1000 bp. (mean: 98.51, sd: 2.05) \textit{(right)}.}
\cl{130}{340}{(c) Results corresponding to \texttt{EMtree} on alignments of length 300 bp. (mean: 98.30, sd: 4.42)}
\nl{119}{\textit{(left)} and 1000 bp. (mean: 99.79, sd: 1.47) \textit{(right)}.}
\pl{91.5}{325}{Results of three different topology reconstruction methods (from top to bottom:}
\pl{80.2}{325}{\texttt{NJ}, \texttt{ML} and \texttt{EMtree}) on the tree space proposed by Huelsenbeck on K81* data}
\pl{68.9}{325}{(x-axis corresponds to parameter $a$ in Figure 2 and y-axis to parameter $b$ in the}
\pl{57.6}{325}{same figure). Black cell is drawn if the topology is 100\% correctly reconstructed}
\pl{46.3}{325}{on the simulated data. White square denotes 0 to 33\% success, and the gray}
\pl{35}{325}{scale in between. Left figures correspond to alignments of lengths 300 bp and}
\node[anchor=base west,inner sep=0pt] at (19,23.7) {\fontsize{9.25}{11}\selectfont right to 1000 bp.};
\end{tikzpicture}
\end{document}
